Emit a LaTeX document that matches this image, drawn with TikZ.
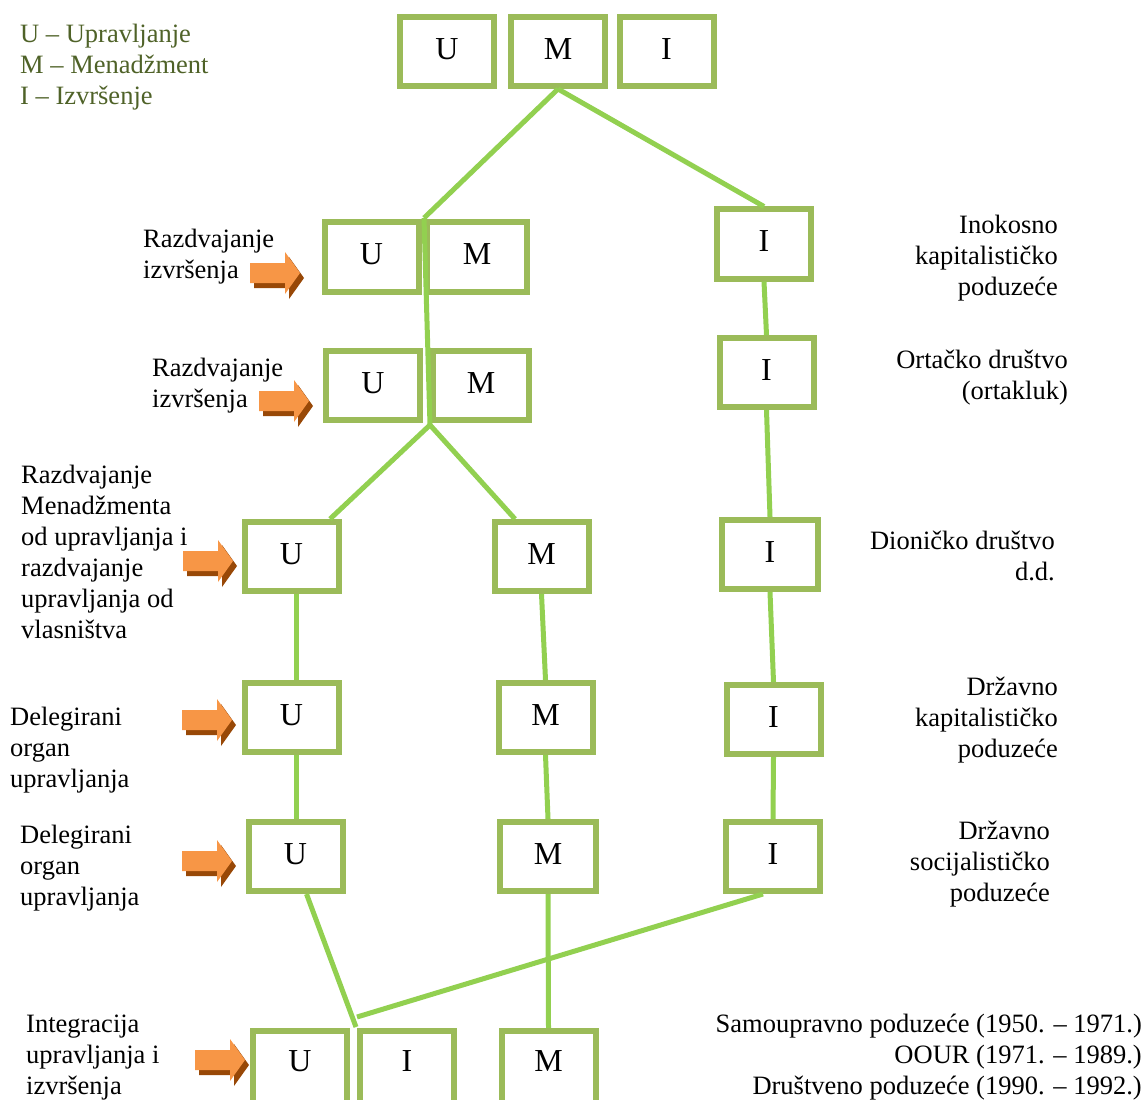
\documentclass[tikz,border=0pt]{standalone}
\usepackage{fontspec}
\setmainfont{Liberation Serif}
\definecolor{boxgreen}{HTML}{9BBB59}
\definecolor{linkgreen}{HTML}{92D050}
\definecolor{legendgreen}{HTML}{4F6228}
\definecolor{arroworange}{HTML}{F79646}
\definecolor{arrowshade}{HTML}{984807}

\begin{document}
\begin{tikzpicture}[
        x=1pt, y=-1pt,
        % Define styles for consistency
        unit/.style={draw=boxgreen, line width=6pt, fill=white, minimum width=94pt,
            minimum height=69pt, inner sep=0pt, text depth=5pt,
            font=\fontsize{32}{36}\selectfont},
        link/.style={linkgreen, line width=5pt},
        note/.style={inner sep=0pt, font=\fontsize{26.5}{31}\selectfont},
        lnote/.style={note, align=left, anchor=base west},
        rnote/.style={note, align=right, anchor=base east},
        legend/.style={inner sep=0pt, anchor=base west, text=legendgreen,
            font=\fontsize{26.5}{31}\selectfont},
        pointer/.pic={
            \fill[arrowshade, shift={(4,5)}] (0,-10) -- (35,-10) -- (35,-21) -- (50,0)
                -- (35,21) -- (35,10) -- (0,10) -- cycle;
            \fill[arroworange] (0,-10) -- (35,-10) -- (35,-21) -- (50,0)
                -- (35,21) -- (35,10) -- (0,10) -- cycle;
        }
    ]
    \useasboundingbox (0,0) rectangle (1147,1099);

    % --- Legend ---
    \node[legend] (key_u) at (20,43) {U – Upravljanje};
    \node[legend] (key_m) at (20,74) {M – Menadžment};
    \node[legend] (key_i) at (20,105) {I – Izvršenje};

    % --- Boxes ---
    % Top row
    \node[unit] (u1) at (447,51.5) {U};
    \node[unit] (m1) at (558,51.5) {M};
    \node[unit] (i1) at (666.5,51.5) {I};

    % Inokosno kapitalisticko poduzece
    \node[unit] (u2) at (371.5,257) {U};
    \node[unit, minimum width=100pt] (m2) at (477,257) {M};
    \node[unit] (i2) at (764,244) {I};

    % Ortacko drustvo
    \node[unit] (u3) at (373,385.5) {U};
    \node[unit, minimum width=96pt] (m3) at (481,385.5) {M};
    \node[unit] (i3) at (766.5,372.5) {I};

    % Dionicko drustvo
    \node[unit] (u4) at (291.5,556.5) {U};
    \node[unit] (m4) at (541.5,556.5) {M};
    \node[unit, minimum width=96pt] (i4) at (770,554.5) {I};

    % Drzavno kapitalisticko poduzece
    \node[unit] (u5) at (291.5,717.5) {U};
    \node[unit] (m5) at (545.5,717.5) {M};
    \node[unit] (i5) at (773.5,719.5) {I};

    % Drzavno socijalisticko poduzece
    \node[unit] (u6) at (295.5,856.5) {U};
    \node[unit, minimum width=96pt] (m6) at (548,856.5) {M};
    \node[unit] (i6) at (773,856.5) {I};

    % Samoupravno poduzece
    \node[unit, minimum height=77pt, text depth=17pt] (u7) at (300,1069.5) {U};
    \node[unit, minimum height=77pt, text depth=17pt] (i7) at (407,1069.5) {I};
    \node[unit, minimum height=77pt, text depth=17pt] (m7) at (548.5,1069.5) {M};

    % --- Coordinates ---
    \coordinate (split_top) at (424,218);
    \coordinate (split_bot) at (430,425);
    \coordinate (u_branch) at (330,519);
    \coordinate (m_branch) at (515,519);
    \coordinate (merge_u) at (356,1027);
    \coordinate (merge_i) at (357,1017);

    % --- Draw Edges ---
    % Split of the top block
    \draw[link] (m1.south) -- (split_top);
    \draw[link] (m1.south) -- (i2.north);
    \draw[link] (split_top) -- (split_bot);
    \draw[link] (split_bot) -- (u_branch);
    \draw[link] (split_bot) -- (m_branch);

    % I column
    \draw[link] (i2.south) -- (i3.north);
    \draw[link] (i3.south) -- (i4.north);
    \draw[link] (i4.south) -- (i5.north);
    \draw[link] (i5.south) -- (i6.north);

    % U and M columns
    \draw[link] ([xshift=5pt]u4.south) -- ([xshift=5pt]u5.north);
    \draw[link] ([xshift=5pt]u5.south) -- ([xshift=1pt]u6.north);
    \draw[link] (m4.south) -- (m5.north);
    \draw[link] (m5.south) -- (m6.north);
    \draw[link] (m6.south) -- (m7.north);

    % Integration
    \draw[link] ([xshift=11pt]u6.south) -- (merge_u);
    \draw[link] ([xshift=-10pt]i6.south) -- (merge_i);

    % --- Arrows ---
    \pic at (250,273) {pointer};
    \pic at (259,401) {pointer};
    \pic at (183,561) {pointer};
    \pic at (182,720) {pointer};
    \pic at (182,861) {pointer};
    \pic at (195,1060) {pointer};

    % --- Left notes (anchored at the last line) ---
    \node[lnote] (note2) at (143,278) {Razdvajanje\\izvršenja};
    \node[lnote] (note3) at (152,407) {Razdvajanje\\izvršenja};
    \node[lnote] (note4) at (21,638) {Razdvajanje\\Menadžmenta\\od upravljanja i\\razdvajanje\\upravljanja od\\vlasništva};
    \node[lnote] (note5) at (10,787) {Delegirani\\organ\\upravljanja};
    \node[lnote] (note6) at (20,905) {Delegirani\\organ\\upravljanja};
    \node[lnote] (note7) at (26,1094) {Integracija\\upravljanja i\\izvršenja};

    % --- Right notes (anchored at the last line) ---
    \node[rnote] (form2) at (1058,295) {Inokosno\\kapitalističko\\poduzeće};
    \node[rnote] (form3) at (1068,399) {Ortačko društvo\\(ortakluk)};
    \node[rnote] (form4) at (1055,580) {Dioničko društvo\\d.d.};
    \node[rnote] (form5) at (1058,757) {Državno\\kapitalističko\\poduzeće};
    \node[rnote] (form6) at (1050,901) {Državno\\socijalističko\\poduzeće};
    \node[rnote] (form7) at (1142,1094) {Samoupravno poduzeće (1950. – 1971.)\\OOUR (1971. – 1989.)\\Društveno poduzeće (1990. – 1992.)};

\end{tikzpicture}
\end{document}
